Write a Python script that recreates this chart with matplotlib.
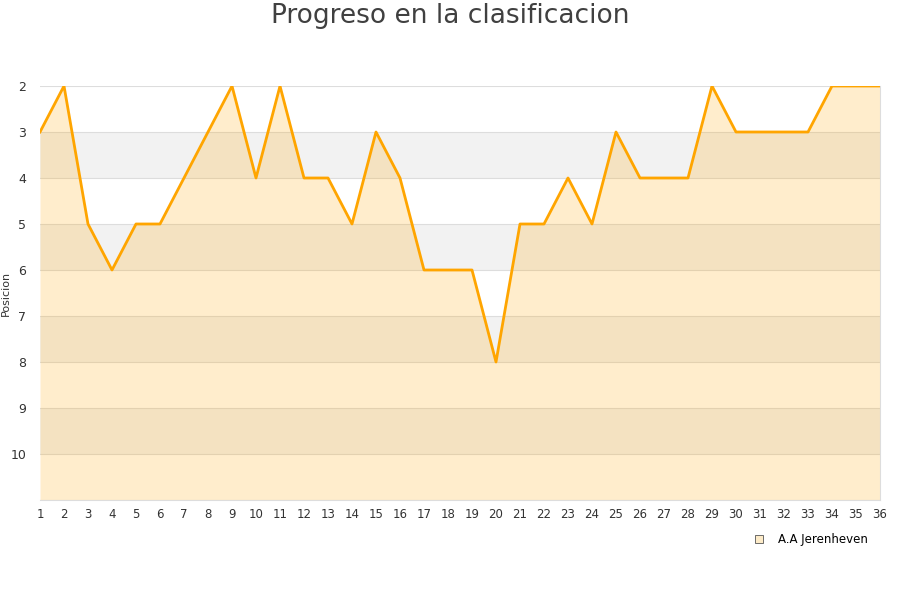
import numpy as np
import matplotlib.pyplot as plt

jornadas = list(range(1, 37))
posicion = [3, 2, 5, 6, 5, 5, 4, 3, 2, 4, 2, 4, 4, 5, 3, 4, 6, 6, 6, 8,
            5, 5, 4, 5, 3, 4, 4, 4, 2, 3, 3, 3, 3, 2, 2, 2]
equipo = "A.A Jerenheven"
y_ticks = list(range(2, 11))

fig = plt.figure(figsize=(9, 6), dpi=100)
ax = fig.add_axes([40/900, 1-500/600, 840/900, 414/600])

# bandas alternas
for y in range(3, 11, 2):
    ax.axhspan(y, y + 1, color="#f2f2f2", zorder=0, lw=0)
for y in range(2, 12):
    ax.axhline(y, color="#dddddd", lw=0.8, zorder=1)

ax.fill_between(jornadas, posicion, 11, color="#ffa500", alpha=0.2, lw=0, zorder=2)
ax.plot(jornadas, posicion, color="#ffa500", lw=2.0, zorder=3)

ax.set_xlim(1, 36)
ax.set_ylim(11, 2)
ax.set_xticks(jornadas)
ax.set_yticks(y_ticks)
ax.tick_params(axis="both", length=0, colors="#333333")
ax.tick_params(axis="x", labelsize=8.5, pad=6)
ax.tick_params(axis="y", labelsize=9, pad=10)
for s in ["top", "left"]:
    ax.spines[s].set_visible(False)
for s in ["right", "bottom"]:
    ax.spines[s].set_color("#dddddd")
ax.set_ylabel("Posicion", fontsize=8, color="#333333")
ax.yaxis.set_label_coords(-0.035, 0.5)

fig.suptitle("Progreso en la clasificacion", fontsize=19, color="#404040", y=0.995)

ax.plot([], [], "s", color="#ffa500", mfc="#fdebc8", mec="#555555", mew=0.6,
        ms=6, label=equipo)
ax.legend(loc="upper right", bbox_to_anchor=(0.995, -0.06), frameon=False,
          fontsize=8.5, handletextpad=0.6, borderpad=0.2)

fig.savefig("out.png", dpi=100)
